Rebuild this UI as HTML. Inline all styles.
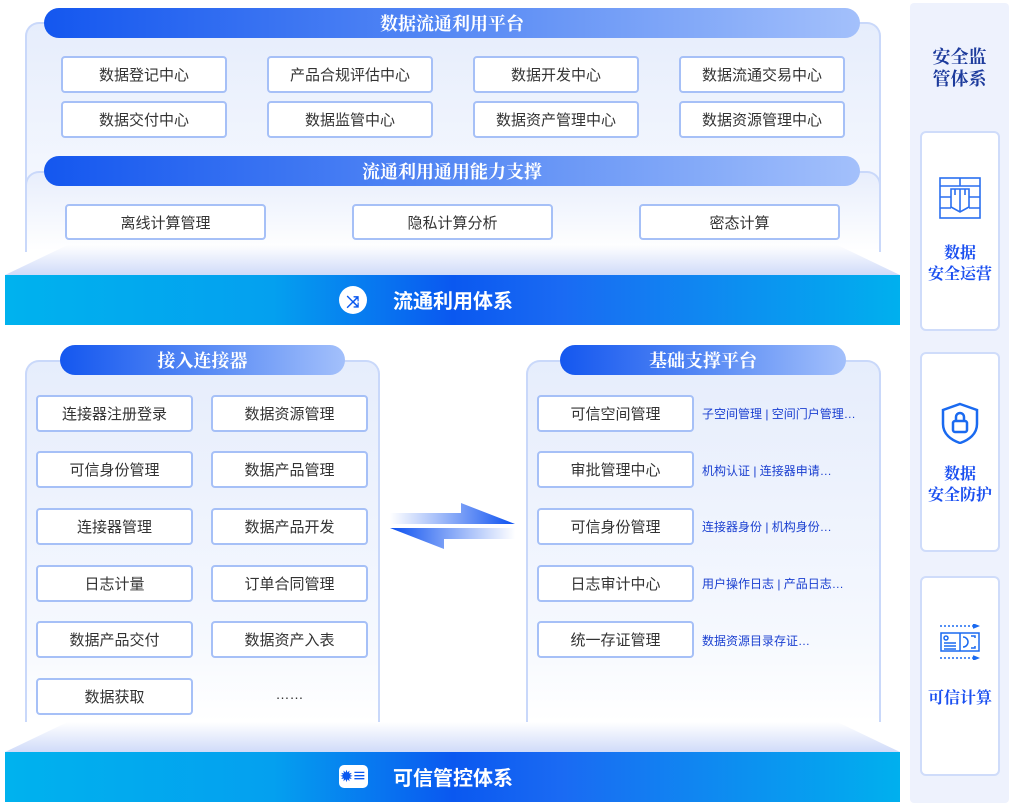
<!DOCTYPE html>
<html><head><meta charset="utf-8"><style>
*{margin:0;padding:0;box-sizing:border-box}
body{width:1019px;height:807px;background:#fff;position:relative;overflow:hidden;font-family:"Liberation Sans","Noto Sans CJK SC",sans-serif}
.a{position:absolute}
.cont{position:absolute;border:2px solid #c9d8fa;border-bottom:none;border-radius:14px 14px 0 0;background:linear-gradient(#e6edfc,#f5f8fe 75%,#fff)}
.pill{position:absolute;height:30px;border-radius:15px;background:linear-gradient(90deg,#1457ef,#5d8ef5 55%,#a3c0fb);color:#fff;font-family:"Noto Serif CJK SC",serif;font-weight:bold;font-size:18px;text-align:center;line-height:30px}
.bx{position:absolute;background:#fff;border:2px solid #a6c0f7;border-radius:4px;text-align:center;font-size:15px;color:#333;display:flex;align-items:center;justify-content:center}
.band{position:absolute;left:5px;width:895px;height:50px;background:linear-gradient(90deg,#00b2ee,#04a0ef 30%,#0a58f0 50%,#1a6af3 62%,#00b0ee 100%);color:#fff;font-size:20px;font-weight:bold;font-family:"Noto Sans CJK SC",sans-serif}
.trap{position:absolute;left:5px;width:895px;height:30px;background:linear-gradient(rgba(255,255,255,0),#d0dbf9);clip-path:polygon(7% 0,93% 0,100% 100%,0 100%)}
.bt{position:absolute;left:702px;font-size:12px;color:#1a3fd0}
.card{position:absolute;left:920px;width:80px;background:#fff;border:2px solid #cfdcfa;border-radius:6px;text-align:center;color:#1a4ff0;font-weight:bold;font-size:16px;font-family:"Noto Serif CJK SC",serif;line-height:21px}
</style></head><body>
<div class="cont" style="left:25px;top:22px;width:856px;height:230px"></div>
<div class="pill" style="left:44px;top:8px;width:816px">数据流通利用平台</div>
<div class="bx" style="left:61px;top:56px;width:166px;height:37px">数据登记中心</div>
<div class="bx" style="left:267px;top:56px;width:166px;height:37px">产品合规评估中心</div>
<div class="bx" style="left:473px;top:56px;width:166px;height:37px">数据开发中心</div>
<div class="bx" style="left:679px;top:56px;width:166px;height:37px">数据流通交易中心</div>
<div class="bx" style="left:61px;top:101px;width:166px;height:37px">数据交付中心</div>
<div class="bx" style="left:267px;top:101px;width:166px;height:37px">数据监管中心</div>
<div class="bx" style="left:473px;top:101px;width:166px;height:37px">数据资产管理中心</div>
<div class="bx" style="left:679px;top:101px;width:166px;height:37px">数据资源管理中心</div>
<div class="cont" style="left:25px;top:171px;width:856px;height:80px;background:linear-gradient(#e8eefc,#fff)"></div>
<div class="pill" style="left:44px;top:156px;width:816px">流通利用通用能力支撑</div>
<div class="bx" style="left:65px;top:204px;width:201px;height:36px">离线计算管理</div>
<div class="bx" style="left:352px;top:204px;width:201px;height:36px">隐私计算分析</div>
<div class="bx" style="left:639px;top:204px;width:201px;height:36px">密态计算</div>
<div class="trap" style="top:245px"></div>
<div class="band" style="top:275px">
<div class="a" style="left:334px;top:11px;width:28px;height:28px;border-radius:50%;background:#fff;color:#0a58f0;font-size:16px;text-align:center;line-height:28px">⤨</div>
<div class="a" style="left:388px;top:11px;line-height:28px">流通利用体系</div></div>
<div class="cont" style="left:25px;top:360px;width:355px;height:362px"></div>
<div class="pill" style="left:60px;top:345px;width:285px">接入连接器</div>
<div class="bx" style="left:36px;top:395px;width:157px;height:37px">连接器注册登录</div>
<div class="bx" style="left:211px;top:395px;width:157px;height:37px">数据资源管理</div>
<div class="bx" style="left:36px;top:451px;width:157px;height:37px">可信身份管理</div>
<div class="bx" style="left:211px;top:451px;width:157px;height:37px">数据产品管理</div>
<div class="bx" style="left:36px;top:508px;width:157px;height:37px">连接器管理</div>
<div class="bx" style="left:211px;top:508px;width:157px;height:37px">数据产品开发</div>
<div class="bx" style="left:36px;top:565px;width:157px;height:37px">日志计量</div>
<div class="bx" style="left:211px;top:565px;width:157px;height:37px">订单合同管理</div>
<div class="bx" style="left:36px;top:621px;width:157px;height:37px">数据产品交付</div>
<div class="bx" style="left:211px;top:621px;width:157px;height:37px">数据资产入表</div>
<div class="bx" style="left:36px;top:678px;width:157px;height:37px">数据获取</div>
<div class="a" style="left:211px;top:686px;width:157px;text-align:center;font-size:14px;color:#333">……</div>
<svg class="a" style="left:385px;top:498px" width="135" height="56">
<defs><linearGradient id="g1" x1="0" x2="1"><stop offset="0" stop-color="#1a5af0" stop-opacity="0"/><stop offset="1" stop-color="#0a4ff0"/></linearGradient>
<linearGradient id="g2" x1="1" x2="0"><stop offset="0" stop-color="#1a5af0" stop-opacity="0"/><stop offset="1" stop-color="#0a4ff0"/></linearGradient></defs>
<polygon points="5,15 76,15 76,5 130,26 5,26" fill="url(#g1)"/>
<polygon points="5,30 130,30 130,41 59,41 59,51" fill="url(#g2)"/>
</svg>
<div class="cont" style="left:526px;top:360px;width:355px;height:362px"></div>
<div class="pill" style="left:560px;top:345px;width:286px">基础支撑平台</div>
<div class="bx" style="left:537px;top:395px;width:157px;height:37px">可信空间管理</div>
<div class="bx" style="left:537px;top:451px;width:157px;height:37px">审批管理中心</div>
<div class="bx" style="left:537px;top:508px;width:157px;height:37px">可信身份管理</div>
<div class="bx" style="left:537px;top:565px;width:157px;height:37px">日志审计中心</div>
<div class="bx" style="left:537px;top:621px;width:157px;height:37px">统一存证管理</div>
<div class="bt" style="top:405px">子空间管理 | 空间门户管理…</div>
<div class="bt" style="top:462px">机构认证 | 连接器申请…</div>
<div class="bt" style="top:518px">连接器身份 | 机构身份…</div>
<div class="bt" style="top:575px">用户操作日志 | 产品日志…</div>
<div class="bt" style="top:632px">数据资源目录存证…</div>
<div class="trap" style="top:722px"></div>
<div class="band" style="top:752px">
<div class="a" style="left:334px;top:13px;width:29px;height:23px;border-radius:5px;background:#fff;color:#0a58f0;font-size:14px;text-align:center;line-height:23px">✹≡</div>
<div class="a" style="left:388px;top:11px;line-height:28px">可信管控体系</div></div>
<div class="a" style="left:910px;top:3px;width:99px;height:800px;background:#eef2fd;border-radius:4px"></div>
<div class="a" style="left:910px;top:45px;width:99px;text-align:center;font-family:'Noto Serif CJK SC',serif;font-weight:bold;font-size:18px;line-height:22px;color:#1d3b9c">安全监<br>管体系</div>
<div class="card" style="top:131px;height:200px"><svg style="margin-top:44px" width="42" height="42" viewBox="0 0 42 42" fill="none" stroke="#2a6ff0" stroke-width="1.6"><rect x="1" y="1" width="40" height="40"/><path d="M1 9H41M21 1V9M1 20H12M30 20H41M1 31H12M30 31H41M12 12H30V30L21 35L12 30Z M16 12V18M21 12V18M26 12V18M21 18V34"/></svg><div style="margin-top:18px">数据<br>安全运营</div></div>
<div class="card" style="top:352px;height:200px"><svg style="margin-top:48px" width="38" height="42" viewBox="0 0 38 42" fill="none" stroke="#1a6af0" stroke-width="2.5"><path d="M19 2L36 8V22C36 32 28 38 19 41C10 38 2 32 2 22V8Z"/><rect x="12" y="19" width="14" height="11" rx="2"/><path d="M15 19V15A4 4 0 0 1 23 15V19"/></svg><div style="margin-top:14px">数据<br>安全防护</div></div>
<div class="card" style="top:576px;height:200px"><svg style="margin-top:46px" width="44" height="36" viewBox="0 0 44 36" fill="none" stroke="#1a6af0" stroke-width="1.5"><path d="M2 2H38M2 34H38" stroke-dasharray="2 2"/><path d="M35 0L40 2L35 4M35 32L40 34L35 36" fill="#1a6af0"/><rect x="3" y="9" width="38" height="18"/><circle cx="8" cy="14" r="2"/><path d="M6 19H18M6 22H18M6 25H18M22 9V27M25 13A5 5 0 0 1 25 23M33 12H37V14M33 24H37V22"/></svg><div style="margin-top:22px">可信计算</div></div>
</body></html>
